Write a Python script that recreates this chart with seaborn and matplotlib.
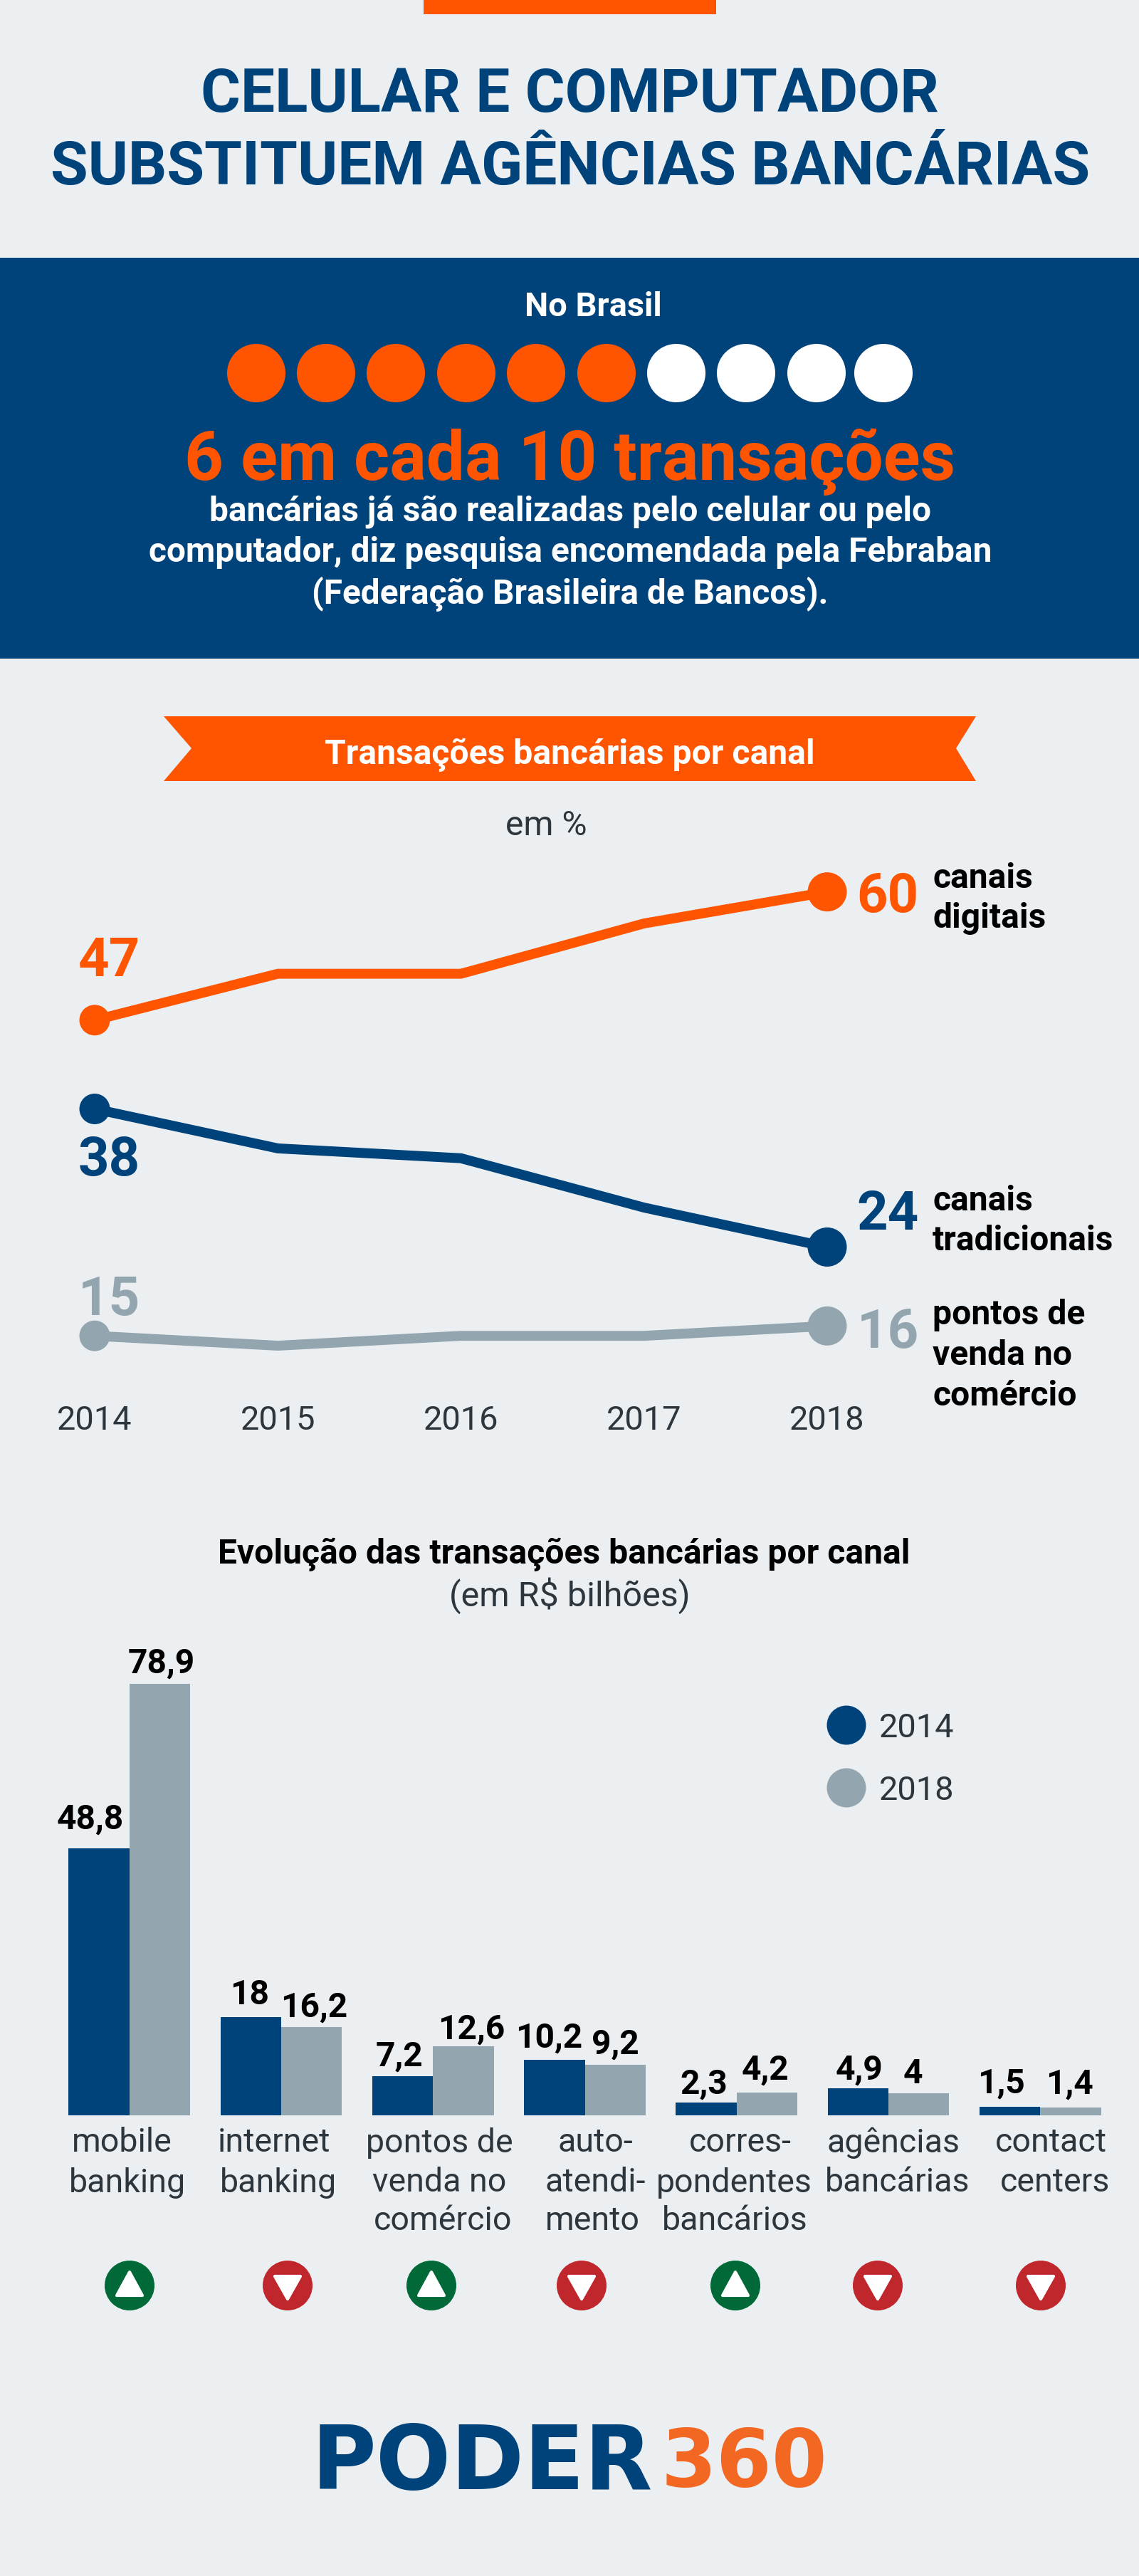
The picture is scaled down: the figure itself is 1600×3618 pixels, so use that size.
import pandas as pd
import matplotlib
matplotlib.use("Agg")
import matplotlib.pyplot as plt
from matplotlib.patches import Polygon, Rectangle, Ellipse
import seaborn as sns

# line chart
years = [2014, 2015, 2016, 2017, 2018]
digitais = [47, 51.7, 51.7, 56.8, 60]
tradicionais = [38, 34, 33, 28, 24]
pontos = [15, 14, 15, 15, 16]

# bar chart
canais = ["mobile banking", "internet banking", "pontos de venda no comércio",
          "autoatendimento", "correspondentes bancários", "agências bancárias",
          "contact centers"]
v2014 = [48.8, 18, 7.2, 10.2, 2.3, 4.9, 1.5]
v2018 = [78.9, 16.2, 12.6, 9.2, 4.2, 4, 1.4]
subiu = [True, False, True, False, True, False, False]

BG = "#eceff2"
NAVY = "#00427a"
ORANGE = "#ff5500"
GRAY = "#93a5af"
DARK = "#2d363d"
GREEN = "#006937"
RED = "#c0272d"

sns.set_theme(style="white")
plt.rcParams["font.family"] = ["Roboto", "DejaVu Sans"]

W, H = 1600, 3618
fig = plt.figure(figsize=(W / 100, H / 100), dpi=100, facecolor=BG)

# page axes in pixels, for the shapes and free text
page = fig.add_axes([0, 0, 1, 1], zorder=0)
page.set_xlim(0, W)
page.set_ylim(H, 0)
page.axis("off")


def px(size):
    return size * 0.72


def txt(x, y, s, size, color=DARK, weight="normal", ha="center", **kw):
    return page.text(x, y, s, fontsize=px(size), color=color, fontweight=weight,
                     ha=ha, va="center_baseline", **kw)


def axes_px(left, top, right, bottom):
    return fig.add_axes([left / W, 1 - bottom / H, (right - left) / W, (bottom - top) / H],
                        facecolor="none", zorder=2)


def dot(x, y, d, color):
    page.add_patch(Ellipse((x, y), d, d, fc=color, ec="none"))


# header
page.add_patch(Rectangle((595, 0), 411, 20, fc=ORANGE, ec="none"))
txt(800, 125, "CELULAR E COMPUTADOR", 85.5, NAVY, "bold")
txt(801, 227, "SUBSTITUEM AGÊNCIAS BANCÁRIAS", 85.5, NAVY, "bold")

# banner
page.add_patch(Rectangle((0, 362), W, 563, fc=NAVY, ec="none"))
txt(833, 426, "No Brasil", 47, "white", "bold")
dot_x = [360, 458, 556, 655, 753, 852, 950, 1048, 1147, 1241]
for i, x in enumerate(dot_x):
    dot(x, 524, 82, ORANGE if i < 6 else "white")
txt(801, 638, "6 em cada 10 transações", 96, ORANGE, "bold")
txt(801, 713, "bancárias já são realizadas pelo celular ou pelo", 47.7, "white", "bold")
txt(801, 771, "computador, diz pesquisa encomendada pela Febraban", 47.7, "white", "bold")
txt(801, 829, "(Federação Brasileira de Bancos).", 47.7, "white", "bold")

# ribbon
page.add_patch(Polygon([(230, 1006), (1371, 1006), (1343, 1051), (1371, 1097),
                        (230, 1097), (269, 1051)], fc=ORANGE, ec="none"))
txt(800, 1055, "Transações bancárias por canal", 48, "white", "bold")
txt(767, 1155, "em %", 48)

# line chart
ax = axes_px(100, 1200, 1200, 1960)
df = pd.DataFrame({
    "ano": years * 3,
    "valor": digitais + tradicionais + pontos,
    "canal": ["digitais"] * 5 + ["tradicionais"] * 5 + ["pontos"] * 5,
})
pal = {"digitais": ORANGE, "tradicionais": NAVY, "pontos": GRAY}
sns.lineplot(data=df, x="ano", y="valor", hue="canal", palette=pal, linewidth=10,
             legend=False, ax=ax, solid_joinstyle="miter")
sns.scatterplot(data=df[df.ano == years[0]], x="ano", y="valor", hue="canal", palette=pal,
                s=(43 * 0.72) ** 2, linewidth=0, legend=False, ax=ax, zorder=3)
sns.scatterplot(data=df[df.ano == years[-1]], x="ano", y="valor", hue="canal", palette=pal,
                s=(55 * 0.72) ** 2, linewidth=0, legend=False, ax=ax, zorder=3)
ax.set_xlim(2014 - 33 / 257.25, 2018 + 38 / 257.25)
ax.set_ylim(8.95, 63.8)
ax.set_xticks(years)
ax.set_yticks([])
ax.set_xlabel("")
ax.set_ylabel("")
ax.tick_params(axis="x", length=0, pad=9, labelsize=px(47), labelcolor=DARK)
sns.despine(ax=ax, left=True, bottom=True)

# value labels of the line chart
for serie, color, dy_ini, dy_fim in [(digitais, ORANGE, 90, 0),
                                     (tradicionais, NAVY, -65, 53),
                                     (pontos, GRAY, 58, -2)]:
    ax.annotate(str(serie[0]), (years[0], serie[0]), xytext=(20, dy_ini), textcoords="offset pixels",
                ha="center", va="center_baseline", fontsize=px(76), fontweight="bold", color=color)
    ax.annotate(str(serie[-1]), (years[-1], serie[-1]), xytext=(85, dy_fim), textcoords="offset pixels",
                ha="center", va="center_baseline", fontsize=px(76), fontweight="bold", color=color)

for y, s in [(1229, "canais"), (1285, "digitais"), (1682, "canais"), (1738, "tradicionais"),
             (1842, "pontos de"), (1899, "venda no"), (1956, "comércio")]:
    txt(1310, y, s, 48, "black", "bold", ha="left")

# bar chart
txt(792, 2178, "Evolução das transações bancárias por canal", 48, "black", "bold")
txt(800, 2236, "(em R$ bilhões)", 48.5)

bx = axes_px(75, 2300, 1568, 2971)
bars = pd.DataFrame({
    "canal": canais * 2,
    "valor": v2014 + v2018,
    "ano": ["2014"] * 7 + ["2018"] * 7,
})
sns.barplot(data=bars, x="canal", y="valor", hue="ano", order=canais,
            palette={"2014": NAVY, "2018": GRAY}, width=0.8, gap=0, saturation=1,
            legend=False, ax=bx, linewidth=0)
bx.set_xlim(-0.5, 6.5)
bx.set_ylim(0, 671 / 7.68)
bx.set_xlabel("")
bx.set_ylabel("")
bx.set_xticks([])
bx.set_yticks([])
sns.despine(ax=bx, left=True, bottom=True)

# label nudges in pixels from the top centre of each bar
nudge_2014 = [(-12, 46), (-2, 36), (-5, 32), (-8, 35), (-3, 31), (2, 31), (-12, 38)]
nudge_2018 = [(2, 33), (4, 32), (11, 29), (0, 34), (-2, 36), (-8, 32), (-2, 38)]
for cont, vals, nudges in [(bx.containers[0], v2014, nudge_2014), (bx.containers[1], v2018, nudge_2018)]:
    for rect, v, (dx, dy) in zip(cont, vals, nudges):
        bx.annotate(f"{v:g}".replace(".", ","), (rect.get_x() + rect.get_width() / 2, v),
                    xytext=(dx, dy), textcoords="offset pixels", ha="center", va="center_baseline",
                    fontsize=px(48), fontweight="bold", color="black")

# category labels, one line at a time as the lines are not aligned
rotulos = [
    [(171, "mobile"), (179, "banking")],
    [(385, "internet"), (391, "banking")],
    [(617, "pontos de"), (617, "venda no"), (622, "comércio")],
    [(836, "auto-"), (836, "atendi-"), (832, "mento")],
    [(1040, "corres-"), (1031, "pondentes"), (1032, "bancários")],
    [(1255, "agências"), (1261, "bancárias")],
    [(1476, "contact"), (1482, "centers")],
]
linhas_y = [3005, 3061, 3115]
for grupo in rotulos:
    for (x, s), y in zip(grupo, linhas_y):
        txt(x, y, s, 46.5)

# legend
dot(1189, 2423, 55, NAVY)
dot(1189, 2511, 55, GRAY)
txt(1235, 2423, "2014", 47, ha="left")
txt(1235, 2511, "2018", 47, ha="left")

# arrows
seta_x = [182, 404, 606, 817, 1033, 1233, 1462]
for x, up in zip(seta_x, subiu):
    dot(x, 3210, 70, GREEN if up else RED)
    if up:
        tri = [(x, 3191), (x + 18, 3224), (x - 18, 3224)]
    else:
        tri = [(x, 3229), (x + 18, 3197), (x - 18, 3197)]
    page.add_patch(Polygon(tri, fc="white", ec="white", lw=3, joinstyle="round"))

# logo
page.text(677, 3449, "PODER", fontsize=px(124), fontweight="bold", family="DejaVu Sans",
          color=NAVY, ha="center", va="center_baseline")
page.text(1045, 3449, "360", fontsize=px(112), fontweight="bold", family="DejaVu Sans",
          color="#f26722", ha="center", va="center_baseline")

fig.savefig("out.png", dpi=100, facecolor=BG)
